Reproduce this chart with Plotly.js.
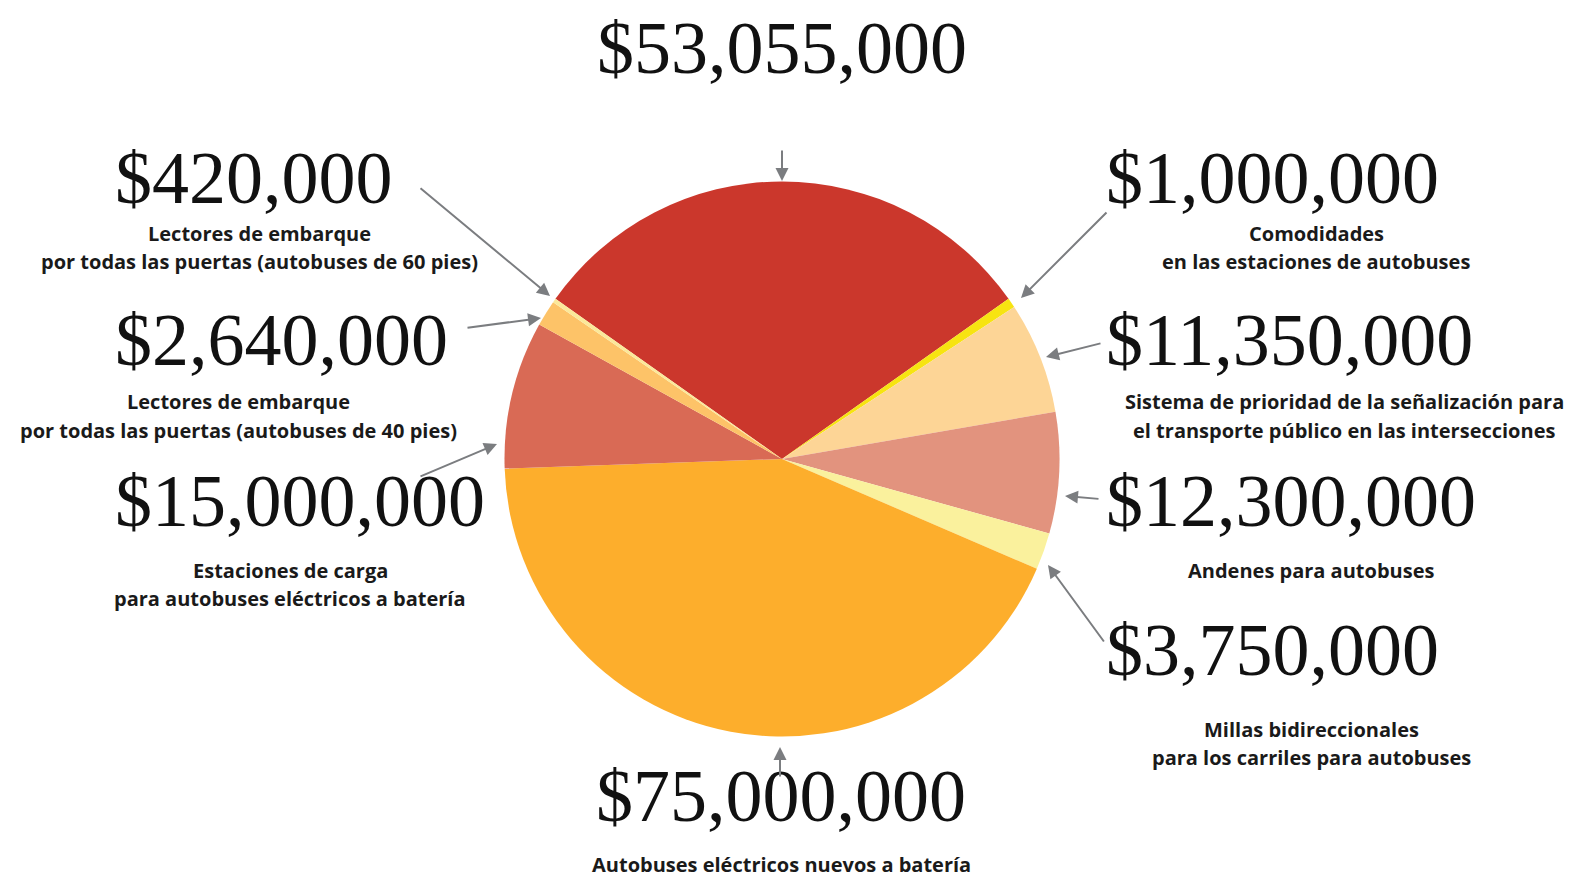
<!DOCTYPE html>
<html>
<head>
<meta charset="utf-8">
<script src="https://cdn.plot.ly/plotly-3.0.1.min.js"></script>
<style>
  html, body { margin:0; padding:0; background:#fff; }
  #chart { width:1582px; height:879px; }
</style>
</head>
<body>
<div id="chart"></div>
<script>
// --- Data (clockwise from the top slice) ---
const amounts = [53055000, 1000000, 11350000, 12300000, 3750000, 75000000, 15000000, 2640000, 420000];
const amountLabels = ['$53,055,000', '$1,000,000', '$11,350,000', '$12,300,000', '$3,750,000',
  '$75,000,000', '$15,000,000', '$2,640,000', '$420,000'];
const descriptions = [
  '',
  'Comodidades<br>en las estaciones de autobuses',
  'Sistema de prioridad de la señalización para<br>el transporte público en las intersecciones',
  'Andenes para autobuses',
  'Millas bidireccionales<br>para los carriles para autobuses',
  'Autobuses eléctricos nuevos a batería',
  'Estaciones de carga<br>para autobuses eléctricos a batería',
  'Lectores de embarque<br>por todas las puertas (autobuses de 40 pies)',
  'Lectores de embarque<br>por todas las puertas (autobuses de 60 pies)'
];
const sliceColors = ['#cb372c', '#f7e411', '#fdd596', '#e2937e', '#faf19d', '#fdae2c', '#d96a55', '#fdc368', '#fbe89a'];

// --- Layout helpers (pixel positions on the 1582x879 page) ---
const W = 1582, H = 879;
const px = x => x / W, py = y => 1 - y / H;

// pie circle
const cx = 782, cy = 459, R = 277.5;

// big amount label: [x, y, anchor]
const amountPos = [
  [782, 48, 'center'], [1104, 178, 'left'], [1104, 340, 'left'], [1104, 501, 'left'], [1104, 650, 'left'],
  [781, 796, 'center'], [113, 501, 'left'], [113, 340, 'left'], [113, 178, 'left']
];
// description first-line centre
const descPos = [
  null, [1316, 233], [1344, 402], [1311, 570], [1311, 729], [781, 864], [290, 570], [238, 402], [259, 233]
];
// arrows: tail x,y -> head x,y
const arrowPos = [
  [782, 149, 782, 181], [1108, 211, 1021, 298], [1102, 343, 1046, 357], [1100, 499, 1065, 496],
  [1105, 643, 1048, 565], [780, 778, 780, 747], [419, 477, 497, 444], [466, 328, 541, 318], [419, 187, 550, 296]
];

const annotations = [];
const lineGap = 28.5;
amounts.forEach((v, i) => {
  const [ax, ay, anc] = amountPos[i];
  annotations.push({
    xref:'paper', yref:'paper', x:px(ax), y:py(ay), xanchor:anc, yanchor:'middle',
    text: amountLabels[i], showarrow:false,
    font:{family:'Liberation Serif, serif', size:74, color:'#111'}
  });
  if (descPos[i]) {
    descriptions[i].split('<br>').forEach((line, k) => {
      annotations.push({
        xref:'paper', yref:'paper', x:px(descPos[i][0]), y:py(descPos[i][1] + k * lineGap),
        xanchor:'center', yanchor:'middle', text: line, showarrow:false,
        font:{family:'"Open Sans", Lato, sans-serif', size:20, color:'#1a1a1a', weight:'bold'}
      });
    });
  }
  const [tx, ty, hx, hy] = arrowPos[i];
  annotations.push({
    xref:'paper', yref:'paper', x:px(hx), y:py(hy), ax: tx - hx, ay: ty - hy,
    text:'', showarrow:true, arrowhead:2, arrowsize:1.3, arrowwidth:2, arrowcolor:'#7b7d80', standoff:0
  });
});

const trace = {
  type:'pie', values: amounts, labels: amountLabels, sort:false, direction:'clockwise',
  rotation: -54.72, textinfo:'none', hoverinfo:'label', showlegend:false,
  marker:{colors: sliceColors, line:{width:0}},
  domain:{x:[px(cx - R), px(cx + R)], y:[py(cy + R), py(cy - R)]}
};

const layout = {
  width: W, height: H, margin:{l:0, r:0, t:0, b:0},
  paper_bgcolor:'#fff', plot_bgcolor:'#fff', showlegend:false,
  annotations: annotations
};

Plotly.newPlot('chart', [trace], layout, {displayModeBar:false, staticPlot:true});
</script>
</body>
</html>
